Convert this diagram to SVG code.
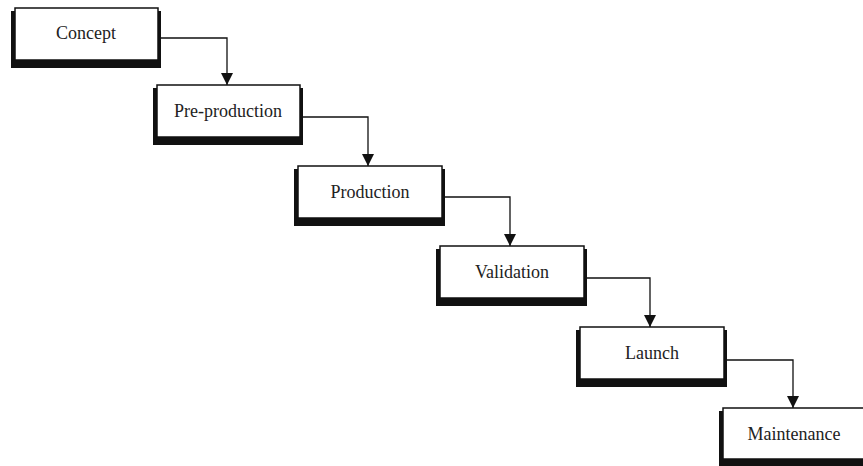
<svg xmlns="http://www.w3.org/2000/svg" width="863" height="466" viewBox="0 0 863 466">
<style>
.sh{fill:#111}
.bx{fill:#fff;stroke:#111;stroke-width:1.5}
.lb{font-family:"Liberation Serif","Times New Roman",serif;font-size:18px;fill:#222;text-anchor:middle}
.cn{fill:none;stroke:#111;stroke-width:1.3}
</style>
<defs>
<marker id="ah" markerWidth="14" markerHeight="14" refX="12" refY="6" orient="auto" markerUnits="userSpaceOnUse">
<path d="M0,0 L12,6 L0,12 Z" fill="#111"/>
</marker>
</defs>
<rect width="863" height="466" fill="#fff"/>
<g id="connectors">
<path class="cn" d="M158,38 H227 V85" marker-end="url(#ah)"/>
<path class="cn" d="M300,117 H368 V166" marker-end="url(#ah)"/>
<path class="cn" d="M442,197 H510 V246" marker-end="url(#ah)"/>
<path class="cn" d="M584,278 H650 V327" marker-end="url(#ah)"/>
<path class="cn" d="M724,360 H793 V408" marker-end="url(#ah)"/>
</g>
<g id="concept">
<rect class="sh" x="11" y="11" width="150" height="57"/>
<rect class="bx" x="15" y="8" width="143" height="52"/>
<text class="lb" x="86" y="39">Concept</text>
</g>
<g id="preproduction">
<rect class="sh" x="153" y="88" width="150" height="57"/>
<rect class="bx" x="157" y="85" width="143" height="52"/>
<text class="lb" x="228" y="117">Pre-production</text>
</g>
<g id="production">
<rect class="sh" x="294" y="169" width="151" height="57"/>
<rect class="bx" x="298" y="166" width="144" height="52"/>
<text class="lb" x="370" y="198">Production</text>
</g>
<g id="validation">
<rect class="sh" x="436" y="249" width="151" height="57"/>
<rect class="bx" x="440" y="246" width="144" height="52"/>
<text class="lb" x="512" y="278">Validation</text>
</g>
<g id="launch">
<rect class="sh" x="576" y="330" width="151" height="57"/>
<rect class="bx" x="580" y="327" width="144" height="52"/>
<text class="lb" x="652" y="359">Launch</text>
</g>
<g id="maintenance">
<rect class="sh" x="719" y="411" width="151" height="57"/>
<rect class="bx" x="723" y="408" width="144" height="51"/>
<text class="lb" x="794" y="440">Maintenance</text>
</g>
</svg>
